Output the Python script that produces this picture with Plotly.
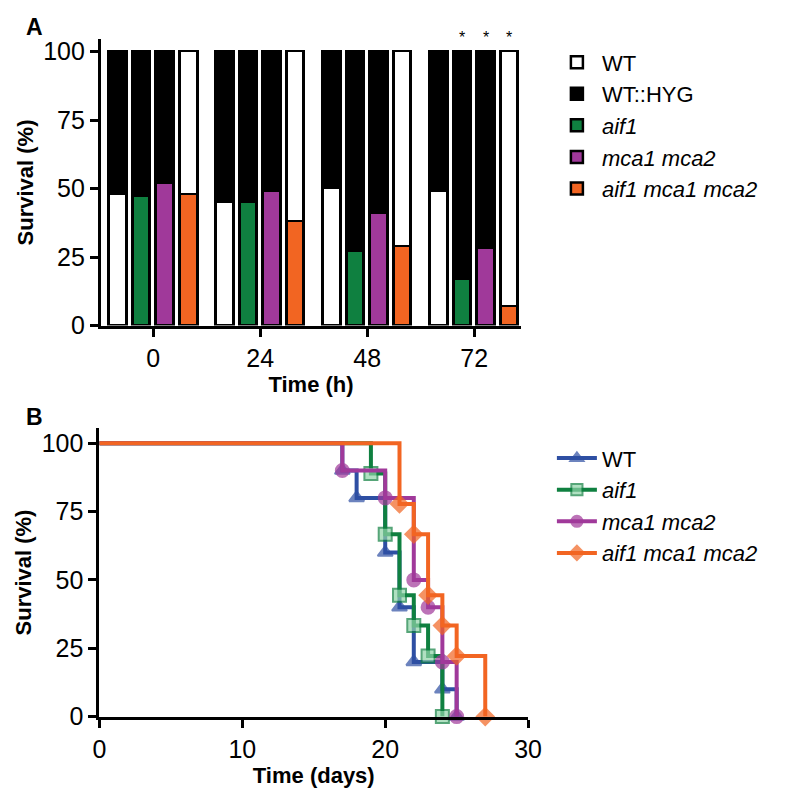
import plotly.graph_objects as go

# =========================
# DATA
# =========================

hours = ["0", "24", "48", "72"]
strains = ["WT", "aif1", "mca1 mca2", "aif1 mca1 mca2"]
strain_labels = ["WT", "<i>aif1</i>", "<i>mca1 mca2</i>", "<i>aif1 mca1 mca2</i>"]
bar_colors = ["white", "#0f8040", "#a0399a", "#f26522"]
top_colors = ["black", "black", "black", "white"]

survival_a = {
    "WT": [48, 45, 50, 49],
    "aif1": [47, 45, 27, 17],
    "mca1 mca2": [52, 49, 41, 28],
    "aif1 mca1 mca2": [48, 38, 29, 7],
}

days = {
    "WT": [0, 17, 18, 20, 21, 22, 24, 25],
    "aif1": [0, 19, 20, 21, 22, 23, 24],
    "mca1 mca2": [0, 17, 20, 22, 23, 24, 25],
    "aif1 mca1 mca2": [0, 21, 22, 23, 24, 25, 27],
}
survival_b = {
    "WT": [100, 90, 80, 60, 40, 20, 10, 0],
    "aif1": [100, 88.9, 66.7, 44.4, 33.3, 22.2, 0],
    "mca1 mca2": [100, 90, 80, 50, 40, 20, 0],
    "aif1 mca1 mca2": [100, 77.8, 66.7, 44.4, 33.3, 22.2, 0],
}
line_colors = ["#2e4fa3", "#0f8040", "#a0399a", "#f26522"]
symbols = ["triangle-up", "square", "circle", "diamond"]
marker_fill = ["#2e4fa3", "#8fd3a8", "#a0399a", "#f26522"]

FONT = "Liberation Sans, Arial, sans-serif"

# =========================
# FIGURE
# =========================

fig = go.Figure()

step = 0.22
offsets = [-1.5 * step, -0.5 * step, 0.5 * step, 1.5 * step]

# bottom (colored) segments
for i, s in enumerate(strains):
    xs = [g + offsets[i] for g in range(len(hours))]
    fig.add_trace(go.Bar(
        x=xs, y=survival_a[s], width=0.165,
        marker=dict(color=bar_colors[i], line=dict(color="black", width=2.5)),
        name=strain_labels[i], legend="legend", legendrank=1 if i == 0 else i + 2,
        xaxis="x", yaxis="y",
    ))

# top segments
for i, s in enumerate(strains):
    xs = [g + offsets[i] for g in range(len(hours))]
    fig.add_trace(go.Bar(
        x=xs, y=[100 - v for v in survival_a[s]], width=0.165,
        marker=dict(color=top_colors[i], line=dict(color="black", width=2.5)),
        name="WT::HYG", legend="legend", legendrank=2,
        showlegend=(i == 0), xaxis="x", yaxis="y",
    ))

for i in range(1, 4):
    fig.add_annotation(x=3 + offsets[i], y=100, yshift=14, text="*",
                       showarrow=False, xref="x", yref="y",
                       font=dict(size=16, color="black", family=FONT))

# survival curves
for i, s in enumerate(strains):
    sizes = [0] + [13] * (len(days[s]) - 1)
    fig.add_trace(go.Scatter(
        x=days[s], y=survival_b[s], mode="lines+markers",
        line=dict(shape="hv", color=line_colors[i], width=4),
        marker=dict(symbol=symbols[i], size=sizes, color=marker_fill[i],
                    line=dict(color=line_colors[i], width=2)),
        name=strain_labels[i], legend="legend2", cliponaxis=False,
        xaxis="x2", yaxis="y2",
    ))

axis_common = dict(
    showline=True, linecolor="black", linewidth=3, ticks="outside",
    tickwidth=3, ticklen=8, tickcolor="black", showgrid=False, zeroline=False,
    tickfont=dict(size=25, family=FONT, color="black"),
)
title_font = dict(size=22, family=FONT, color="black", weight="bold")

fig.update_layout(
    width=788, height=800, margin=dict(l=0, r=0, t=0, b=0),
    plot_bgcolor="white", paper_bgcolor="white", barmode="stack", bargap=0,
    xaxis=dict(axis_common, domain=[0.112, 0.66], range=[-0.49, 3.44],
               tickvals=list(range(len(hours))), ticktext=hours,
               title=dict(text="Time (h)", font=title_font, standoff=6)),
    yaxis=dict(axis_common, domain=[0.5975, 0.9625], range=[0, 104.5],
               tickvals=[0, 25, 50, 75, 100],
               title=dict(text="Survival (%)", font=title_font, standoff=4)),
    xaxis2=dict(axis_common, domain=[0.110, 0.669], range=[0, 30],
                tickvals=[0, 10, 20, 30], anchor="y2",
                title=dict(text="Time (days)", font=title_font, standoff=6)),
    yaxis2=dict(axis_common, domain=[0.09875, 0.46625], range=[0, 105.4],
                tickvals=[0, 25, 50, 75, 100], anchor="x2",
                title=dict(text="Survival (%)", font=title_font, standoff=4)),
    legend=dict(x=0.70, y=0.96, xanchor="left", yanchor="top",
                font=dict(size=22, family=FONT, color="black"),
                traceorder="normal", itemwidth=40, tracegroupgap=6),
    legend2=dict(x=0.70, y=0.455, xanchor="left", yanchor="top",
                 font=dict(size=22, family=FONT, color="black"),
                 traceorder="normal", itemwidth=40),
    showlegend=True,
)

fig.add_annotation(x=0.012, y=0.998, xref="paper", yref="paper", text="<b>A</b>",
                   showarrow=False, xanchor="left", yanchor="top",
                   font=dict(size=23, family=FONT, color="black"))
fig.add_annotation(x=0.012, y=0.5, xref="paper", yref="paper", text="<b>B</b>",
                   showarrow=False, xanchor="left", yanchor="top",
                   font=dict(size=23, family=FONT, color="black"))

fig.write_html("out.html")
